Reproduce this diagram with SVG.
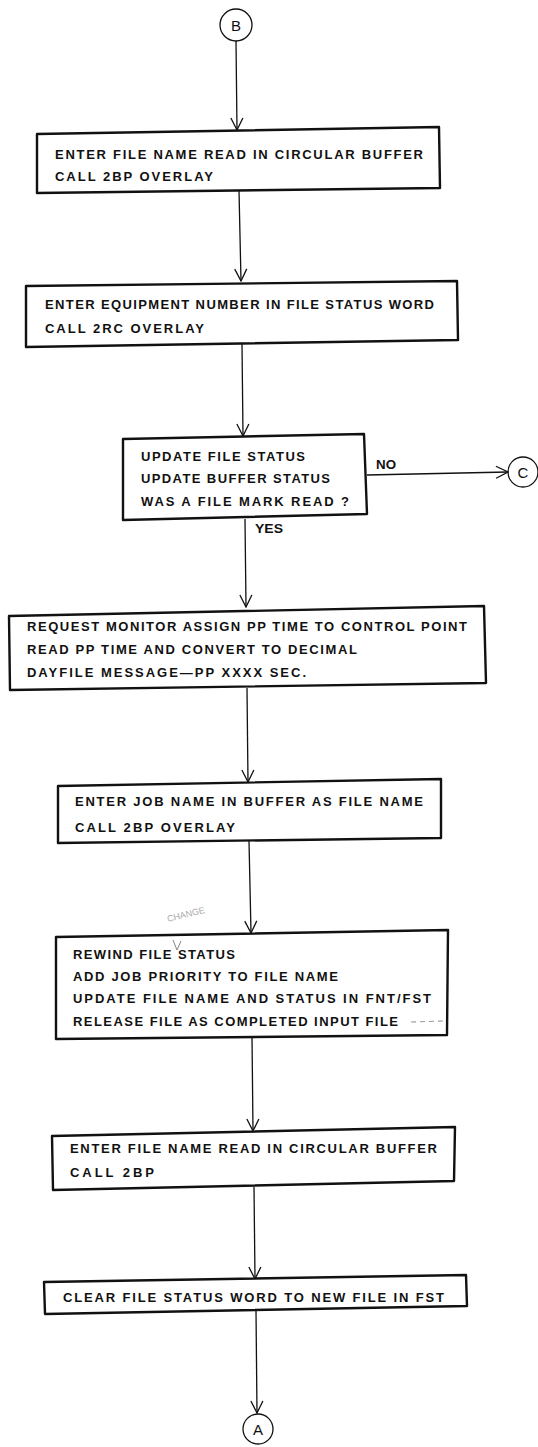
<svg xmlns="http://www.w3.org/2000/svg" width="538" height="1447" viewBox="0 0 538 1447">
  <style>
    .box { fill: #fff; stroke: #111; stroke-width: 2.4; stroke-linejoin: round; }
    .ln { fill: none; stroke: #111; stroke-width: 1.3; }
    .conn { fill: none; stroke: #111; stroke-width: 1.3; }
    .t { font-family: "Liberation Sans", Arial, sans-serif; font-size: 13px; font-weight: bold; fill: #111; }
    .c { font-family: "Liberation Sans", Arial, sans-serif; font-size: 15px; fill: #111; text-anchor: middle; }
    .pencil { font-family: "Liberation Sans", Arial, sans-serif; font-size: 9px; fill: #aaa; }
  </style>
  <defs>
    <marker id="arr" markerUnits="userSpaceOnUse" viewBox="0 0 14 14" refX="13" refY="7" markerWidth="14" markerHeight="14" orient="auto">
      <path d="M1,1 L13,7 L1,13" fill="none" stroke="#111" stroke-width="1.3"/>
    </marker>
  </defs>

  <!-- connectors -->
  <g id="connectors">
    <path class="conn" d="M236,41 L237,130" marker-end="url(#arr)"/>
    <path class="conn" d="M239,190 L241,281" marker-end="url(#arr)"/>
    <path class="conn" d="M242,344 L243,436" marker-end="url(#arr)"/>
    <path class="conn" d="M245,519 L246,607" marker-end="url(#arr)"/>
    <path class="conn" d="M247,688 L248,782" marker-end="url(#arr)"/>
    <path class="conn" d="M249,841 L251,933" marker-end="url(#arr)"/>
    <path class="conn" d="M252,1037 L253,1131" marker-end="url(#arr)"/>
    <path class="conn" d="M254,1187 L255,1279" marker-end="url(#arr)"/>
    <path class="conn" d="M256,1311 L257,1413" marker-end="url(#arr)"/>
    <path class="conn" d="M367,475 L508,472" marker-end="url(#arr)"/>
    <text class="t" x="376" y="469" textLength="20" lengthAdjust="spacingAndGlyphs">NO</text>
    <text class="t" x="255" y="533" textLength="28" lengthAdjust="spacingAndGlyphs">YES</text>
  </g>

  <!-- connector B -->
  <g id="conn-B">
    <circle class="ln" cx="236" cy="25" r="16" stroke-width="1.8"/>
    <text class="c" x="236" y="31">B</text>
  </g>

  <g id="n1">
    <path class="box" d="M37,134 L439,127 L440,188 L37,193 Z"/>
    <text class="t" x="55" y="159" textLength="368" lengthAdjust="spacing">ENTER FILE NAME READ IN CIRCULAR BUFFER</text>
    <text class="t" x="55" y="181" textLength="158" lengthAdjust="spacing">CALL 2BP OVERLAY</text>
  </g>

  <g id="n2">
    <path class="box" d="M26,286 L457,281 L458,340 L26,347 Z"/>
    <text class="t" x="45" y="309" textLength="389" lengthAdjust="spacing">ENTER EQUIPMENT NUMBER IN FILE STATUS WORD</text>
    <text class="t" x="45" y="333" textLength="159" lengthAdjust="spacing">CALL 2RC OVERLAY</text>
  </g>

  <g id="n3">
    <path class="box" d="M123,439 L364,434 L367,514 L123,520 Z"/>
    <text class="t" x="141" y="461" textLength="164" lengthAdjust="spacing">UPDATE FILE STATUS</text>
    <text class="t" x="141" y="483" textLength="189" lengthAdjust="spacing">UPDATE BUFFER STATUS</text>
    <text class="t" x="141" y="506" textLength="208" lengthAdjust="spacing">WAS A FILE MARK READ ?</text>
  </g>

  <!-- connector C -->
  <g id="conn-C">
    <circle class="ln" cx="523" cy="472" r="15" stroke-width="1.8"/>
    <text class="c" x="523" y="478">C</text>
  </g>

  <g id="n4">
    <path class="box" d="M9,616 L484,606 L486,683 L10,690 Z"/>
    <text class="t" x="27" y="631" textLength="440" lengthAdjust="spacing">REQUEST MONITOR ASSIGN PP TIME TO CONTROL POINT</text>
    <text class="t" x="27" y="654" textLength="330" lengthAdjust="spacing">READ PP TIME AND CONVERT TO DECIMAL</text>
    <text class="t" x="27" y="677" textLength="279" lengthAdjust="spacing">DAYFILE MESSAGE—PP XXXX SEC.</text>
  </g>

  <g id="n5">
    <path class="box" d="M58,786 L441,779 L441,838 L58,843 Z"/>
    <text class="t" x="75" y="806" textLength="348" lengthAdjust="spacing">ENTER JOB NAME IN BUFFER AS FILE NAME</text>
    <text class="t" x="75" y="832" textLength="160" lengthAdjust="spacing">CALL 2BP OVERLAY</text>
  </g>

  <g id="n6">
    <path class="box" d="M56,937 L448,930 L447,1035 L56,1039 Z"/>
    <text class="t" x="73" y="959" textLength="162" lengthAdjust="spacing">REWIND FILE STATUS</text>
    <text class="t" x="73" y="981" textLength="265" lengthAdjust="spacing">ADD JOB PRIORITY TO FILE NAME</text>
    <text class="t" x="73" y="1003" textLength="358" lengthAdjust="spacing">UPDATE FILE NAME AND STATUS IN FNT/FST</text>
    <text class="t" x="73" y="1026" textLength="325" lengthAdjust="spacing">RELEASE FILE AS COMPLETED INPUT FILE</text>
    <path d="M411,1022 L443,1021" fill="none" stroke="#999" stroke-width="1.1" stroke-dasharray="5,4"/>
    <!-- pencilled correction -->
    <text class="pencil" x="168" y="922" transform="rotate(-14 168 922)">CHANGE</text>
    <path d="M173,940 L177,950 L181,941" fill="none" stroke="#888" stroke-width="1"/>
  </g>

  <g id="n7">
    <path class="box" d="M52,1136 L455,1127 L454,1181 L53,1190 Z"/>
    <text class="t" x="70" y="1153" textLength="367" lengthAdjust="spacing">ENTER FILE NAME READ IN CIRCULAR BUFFER</text>
    <text class="t" x="70" y="1177" textLength="84" lengthAdjust="spacing">CALL 2BP</text>
  </g>

  <g id="n8">
    <path class="box" d="M44,1282 L466,1275 L467,1306 L45,1314 Z"/>
    <text class="t" x="63" y="1302" textLength="381" lengthAdjust="spacing">CLEAR FILE STATUS WORD TO NEW FILE IN FST</text>
  </g>

  <!-- connector A -->
  <g id="conn-A">
    <circle class="ln" cx="258" cy="1429" r="15" stroke-width="1.8"/>
    <text class="c" x="258" y="1435">A</text>
  </g>
</svg>
